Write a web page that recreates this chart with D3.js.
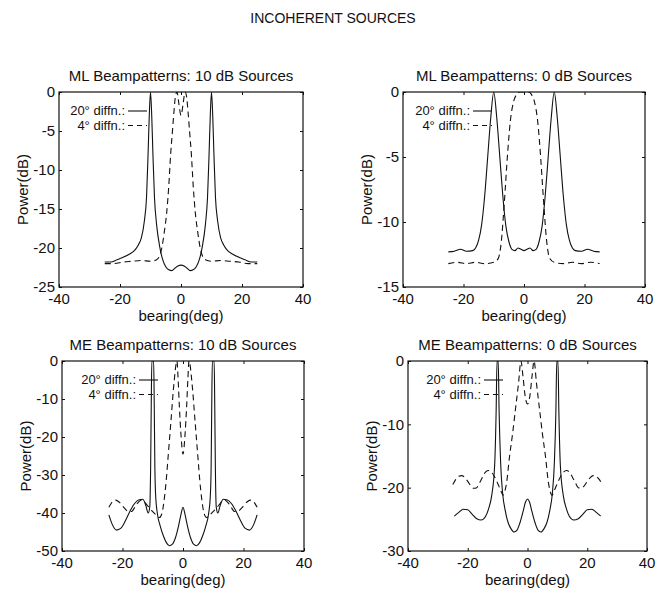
<!DOCTYPE html>
<html>
<head>
<meta charset="utf-8">
<script src="https://cdn.jsdelivr.net/npm/d3@7"></script>
<style>
  body { margin: 0; background: #fff; }
  text { font-family: "Liberation Sans", Arial, sans-serif; fill: #111; }
</style>
</head>
<body>
<div id="fig"></div>
<script>
// values (bearing deg, power dB)
var bearingTicks = [-40, -20, 0, 20, 40];
var mlLoudTicks = [0, -5, -10, -15, -20, -25];
var mlQuietTicks = [0, -5, -10, -15];
var meLoudTicks = [0, -10, -20, -30, -40, -50];
var meQuietTicks = [0, -10, -20, -30];

var panelTitles = [
  "ML Beampatterns: 10 dB Sources",
  "ML Beampatterns: 0 dB Sources",
  "ME Beampatterns: 10 dB Sources",
  "ME Beampatterns: 0 dB Sources"
];
var legendLabels = ["20\u00b0 diffn.:", "4\u00b0 diffn.:"];

// ML, 10 dB
var ml10Wide = [[-25,-21.8],[-23,-21.8],[-21,-21.5],[-19,-21.2],[-17,-20.8],[-15,-20.2],[-14,-19.6],[-13,-18.7],[-12,-16.5],[-11.3,-13.5],[-10.8,-8],[-10.4,-3],[-10,0],[-9.6,-3],[-9.2,-8],[-8.7,-13.5],[-8,-17],[-7,-19.8],[-6,-21.5],[-5,-22.4],[-4,-22.8],[-3,-22.9],[-2,-22.6],[-1,-22.3],[0,-22.2],[1,-22.3],[2,-22.6],[3,-22.9],[4,-22.8],[5,-22.4],[6,-21.5],[7,-19.8],[8,-17],[8.7,-13.5],[9.2,-8],[9.6,-3],[10,0],[10.4,-3],[10.8,-8],[11.3,-13.5],[12,-16.5],[13,-18.7],[14,-19.6],[15,-20.2],[17,-20.8],[19,-21.2],[21,-21.5],[23,-21.8],[25,-21.8]];
var ml10Narrow = [[-25,-22],[-22,-22],[-19,-21.8],[-16,-21.7],[-13,-21.6],[-10,-21.7],[-8,-21.5],[-7,-21],[-6.3,-20],[-5.5,-18],[-4.7,-15.5],[-4,-12],[-3.4,-8],[-2.8,-5],[-2.3,-2.5],[-1.8,-0.5],[-1.3,0],[-0.7,-1.5],[0,-3],[0.7,-1.5],[1.3,0],[1.8,-0.5],[2.3,-2.5],[2.8,-5],[3.4,-8],[4,-12],[4.7,-15.5],[5.5,-18],[6.3,-20],[7,-21],[8,-21.5],[10,-21.7],[13,-21.6],[16,-21.7],[19,-21.8],[22,-22],[25,-22]];

// ML, 0 dB
var ml0Wide = [[-25,-12.3],[-23,-12.25],[-21,-12.1],[-19,-12.25],[-17,-12.2],[-16,-12],[-15,-11.4],[-14,-10.2],[-13,-8],[-12,-5],[-11,-2],[-10,0],[-9,-2],[-8,-5],[-7,-8],[-6,-10.3],[-5,-11.5],[-4,-12.1],[-3,-12.2],[-2,-12],[-1,-12.1],[0,-12.2],[1,-12.1],[2,-12],[3,-12.2],[4,-12.1],[5,-11.5],[6,-10.3],[7,-8],[8,-5],[9,-2],[10,0],[11,-2],[12,-5],[13,-8],[14,-10.2],[15,-11.4],[16,-12],[17,-12.2],[19,-12.25],[21,-12.1],[23,-12.25],[25,-12.3]];
var ml0Narrow = [[-25,-13.2],[-22,-13.1],[-19,-13.2],[-16,-13.1],[-13,-13.2],[-10,-13.1],[-8.5,-12.8],[-7.5,-11.5],[-6.5,-8.5],[-5.5,-5],[-4.5,-2.2],[-3.5,-0.8],[-2.5,-0.2],[-1.5,0],[0,0],[1.5,0],[2.5,-0.2],[3.5,-0.8],[4.5,-2.2],[5.5,-5],[6.5,-8.5],[7.5,-11.5],[8.5,-12.8],[10,-13.1],[13,-13.2],[16,-13.1],[19,-13.2],[22,-13.1],[25,-13.2]];

// ME, 10 dB
var me10Wide = [[-24.5,-40.5],[-23.5,-42.8],[-22,-44.5],[-20.5,-44],[-19,-42],[-17.5,-39.5],[-16,-37.5],[-14.5,-36.5],[-13.3,-36.4],[-12.3,-38],[-11.5,-40],[-11,-38.5],[-10.7,-28],[-10.5,-12],[-10.3,0],[-9.7,0],[-9.5,-12],[-9.3,-28],[-9,-36],[-8.5,-40],[-7.5,-43.5],[-6.5,-46],[-5.5,-47.8],[-4.5,-48.6],[-3.5,-48.2],[-2.5,-46.5],[-1.5,-43.5],[-0.7,-40.5],[0,-38.5],[0.7,-40.5],[1.5,-43.5],[2.5,-46.5],[3.5,-48.2],[4.5,-48.6],[5.5,-47.8],[6.5,-46],[7.5,-43.5],[8.5,-40],[9,-36],[9.3,-28],[9.5,-12],[9.7,0],[10.3,0],[10.5,-12],[10.7,-28],[11,-38.5],[11.5,-40],[12.3,-38],[13.3,-36.4],[14.5,-36.5],[16,-37.5],[17.5,-39.5],[19,-42],[20.5,-44],[22,-44.5],[23.5,-42.8],[24.5,-40.5]];
var me10Narrow = [[-24.5,-38.5],[-23.5,-37.2],[-22.3,-36.6],[-21,-37.2],[-19.5,-38.6],[-18,-39.6],[-17,-39.6],[-16,-38.6],[-15,-37.4],[-14,-36.7],[-13,-36.9],[-12,-37.8],[-10.5,-39.2],[-9,-40.4],[-7.8,-41.2],[-7,-40.2],[-6.3,-37],[-5.5,-31],[-5,-26],[-4,-16],[-3,-6],[-2,0],[-1.6,-5],[-1.2,-12],[-0.7,-19],[0,-24.5],[0.7,-19],[1.2,-12],[1.6,-5],[2,0],[3,-6],[4,-16],[5,-26],[5.5,-31],[6.3,-37],[7,-40.2],[7.8,-41.2],[9,-40.4],[10.5,-39.2],[12,-37.8],[13,-36.9],[14,-36.7],[15,-37.4],[16,-38.6],[17,-39.6],[18,-39.6],[19.5,-38.6],[21,-37.2],[22.3,-36.6],[23.5,-37.2],[24.5,-38.5]];

// ME, 0 dB
var me0Wide = [[-24.5,-24.5],[-23,-23.9],[-21.5,-23.4],[-20,-23.5],[-18.5,-24.2],[-17,-24.9],[-15.5,-25.1],[-14,-24.5],[-13,-23.3],[-12,-21.3],[-11,-16.5],[-10.5,-8],[-10.2,0],[-9.8,0],[-9.5,-8],[-9,-16],[-8.3,-21],[-7.5,-23.5],[-6.5,-25.5],[-5.5,-26.5],[-4.5,-27],[-3.5,-26.7],[-2.5,-25.5],[-1.5,-23.8],[-0.7,-22.3],[0,-21.8],[0.7,-22.3],[1.5,-23.8],[2.5,-25.5],[3.5,-26.7],[4.5,-27],[5.5,-26.5],[6.5,-25.5],[7.5,-23.5],[8.3,-21],[9,-16],[9.5,-8],[9.8,0],[10.2,0],[10.5,-8],[11,-16.5],[12,-21.3],[13,-23.3],[14,-24.5],[15.5,-25.1],[17,-24.9],[18.5,-24.2],[20,-23.5],[21.5,-23.4],[23,-23.9],[24.5,-24.5]];
var me0Narrow = [[-25,-19.5],[-24,-18.7],[-23,-18.2],[-22,-18.1],[-21,-18.4],[-20,-19],[-19,-19.7],[-18,-20.1],[-17,-20],[-16,-19.2],[-15,-18.3],[-14,-17.5],[-13,-17.3],[-12,-17.6],[-11,-18.3],[-10,-19.3],[-9,-20.4],[-8.2,-21.2],[-7.5,-20.4],[-7,-19.2],[-6,-15],[-5,-11.5],[-4,-7.5],[-3,-3.5],[-2.2,0],[-1.5,-2.5],[-0.8,-5.5],[0,-6.8],[0.8,-5.5],[1.5,-2.5],[2.2,0],[3,-3.5],[4,-7.5],[5,-11.5],[6,-15],[7,-19.2],[7.5,-20.4],[8.2,-21.2],[9,-20.4],[10,-19.3],[11,-18.3],[12,-17.6],[13,-17.3],[14,-17.5],[15,-18.3],[16,-19.2],[17,-20],[18,-20.1],[19,-19.7],[20,-19],[21,-18.4],[22,-18.1],[23,-18.2],[24,-18.7],[25,-19.5]];

var svg = d3.select("#fig")
  .append("svg")
  .attr("width", 663)
  .attr("height", 592);

svg.append("text")
  .attr("x", 333)
  .attr("y", 23)
  .attr("text-anchor", "middle")
  .style("font-size", "14px")
  .text("INCOHERENT SOURCES");

function draw_panel(id, box, title, yTicks, wide, narrow, legendX) {
    var x = d3.scaleLinear().domain([-40, 40]).range([box.x0, box.x1]);
    var y = d3.scaleLinear().domain([0, yTicks[yTicks.length - 1]]).range([box.y0, box.y1]);
    var g = svg.append("g").attr("id", id);

    g.append("clipPath")
      .attr("id", id + "-clip")
      .append("rect")
      .attr("x", box.x0)
      .attr("y", box.y0)
      .attr("width", box.x1 - box.x0)
      .attr("height", box.y1 - box.y0);

    // inward ticks on all four sides, like the original plot
    g.append("g")
      .attr("transform", "translate(0," + box.y1 + ")")
      .call(d3.axisBottom(x).tickValues(bearingTicks).tickSize(-3).tickFormat(""));
    g.append("g")
      .attr("transform", "translate(0," + box.y0 + ")")
      .call(d3.axisTop(x).tickValues(bearingTicks).tickSize(-3).tickFormat(""));
    g.append("g")
      .attr("transform", "translate(" + box.x0 + ",0)")
      .call(d3.axisLeft(y).tickValues(yTicks).tickSize(-3).tickFormat(""));
    g.append("g")
      .attr("transform", "translate(" + box.x1 + ",0)")
      .call(d3.axisRight(y).tickValues(yTicks).tickSize(-3).tickFormat(""));
    g.selectAll(".domain").remove();
    g.selectAll(".tick line").attr("stroke", "#111");

    g.append("rect")
      .attr("x", box.x0)
      .attr("y", box.y0)
      .attr("width", box.x1 - box.x0)
      .attr("height", box.y1 - box.y0)
      .attr("fill", "none")
      .attr("stroke", "#111")
      .attr("stroke-width", 1.2);

    g.selectAll(".xlab")
      .data(bearingTicks)
      .enter()
      .append("text")
      .attr("x", function(d) { return x(d); })
      .attr("y", box.y1 + 17)
      .attr("text-anchor", "middle")
      .style("font-size", "15px")
      .text(function(d) { return d; });

    g.selectAll(".ylab")
      .data(yTicks)
      .enter()
      .append("text")
      .attr("x", box.x0 - 4)
      .attr("y", function(d) { return y(d); })
      .attr("dy", "0.36em")
      .attr("text-anchor", "end")
      .style("font-size", "15px")
      .text(function(d) { return d; });

    g.append("text")
      .attr("x", (box.x0 + box.x1) / 2)
      .attr("y", box.y0 - 11)
      .attr("text-anchor", "middle")
      .style("font-size", "15px")
      .text(title);

    g.append("text")
      .attr("x", (box.x0 + box.x1) / 2)
      .attr("y", box.y1 + 34)
      .attr("text-anchor", "middle")
      .style("font-size", "15px")
      .text("bearing(deg)");

    g.append("text")
      .attr("transform", "translate(" + (box.x0 - 31) + "," + ((box.y0 + box.y1) / 2) + ") rotate(-90)")
      .attr("text-anchor", "middle")
      .style("font-size", "15px")
      .text("Power(dB)");

    var line = d3.line()
      .x(function(d) { return x(d[0]); })
      .y(function(d) { return y(d[1]); })
      .curve(d3.curveMonotoneX);

    var curves = g.append("g").attr("clip-path", "url(#" + id + "-clip)");
    curves.append("path")
      .attr("d", line(wide))
      .attr("fill", "none")
      .attr("stroke", "#111")
      .attr("stroke-width", 1.1);
    curves.append("path")
      .attr("d", line(narrow))
      .attr("fill", "none")
      .attr("stroke", "#111")
      .attr("stroke-width", 1.1)
      .attr("stroke-dasharray", "6,4");

    // legend
    var ly = [box.y0 + 23, box.y0 + 37.5];
    legendLabels.forEach(function(s, i) {
        g.append("text")
          .attr("x", legendX)
          .attr("y", ly[i])
          .attr("text-anchor", "end")
          .style("font-size", "13px")
          .text(s);
        g.append("line")
          .attr("x1", legendX + 3)
          .attr("x2", legendX + 22)
          .attr("y1", ly[i] - 4)
          .attr("y2", ly[i] - 4)
          .attr("stroke", "#111")
          .attr("stroke-width", 1.1)
          .attr("stroke-dasharray", i == 0 ? null : "5,4");
    });
}

draw_panel("p1", {x0: 59, x1: 303, y0: 92, y1: 287}, panelTitles[0], mlLoudTicks, ml10Wide, ml10Narrow, 125);
draw_panel("p2", {x0: 403, x1: 645, y0: 92, y1: 287}, panelTitles[1], mlQuietTicks, ml0Wide, ml0Narrow, 470);
draw_panel("p3", {x0: 62, x1: 304, y0: 361, y1: 551}, panelTitles[2], meLoudTicks, me10Wide, me10Narrow, 136);
draw_panel("p4", {x0: 408, x1: 647, y0: 361, y1: 551}, panelTitles[3], meQuietTicks, me0Wide, me0Narrow, 481);
</script>
</body>
</html>
